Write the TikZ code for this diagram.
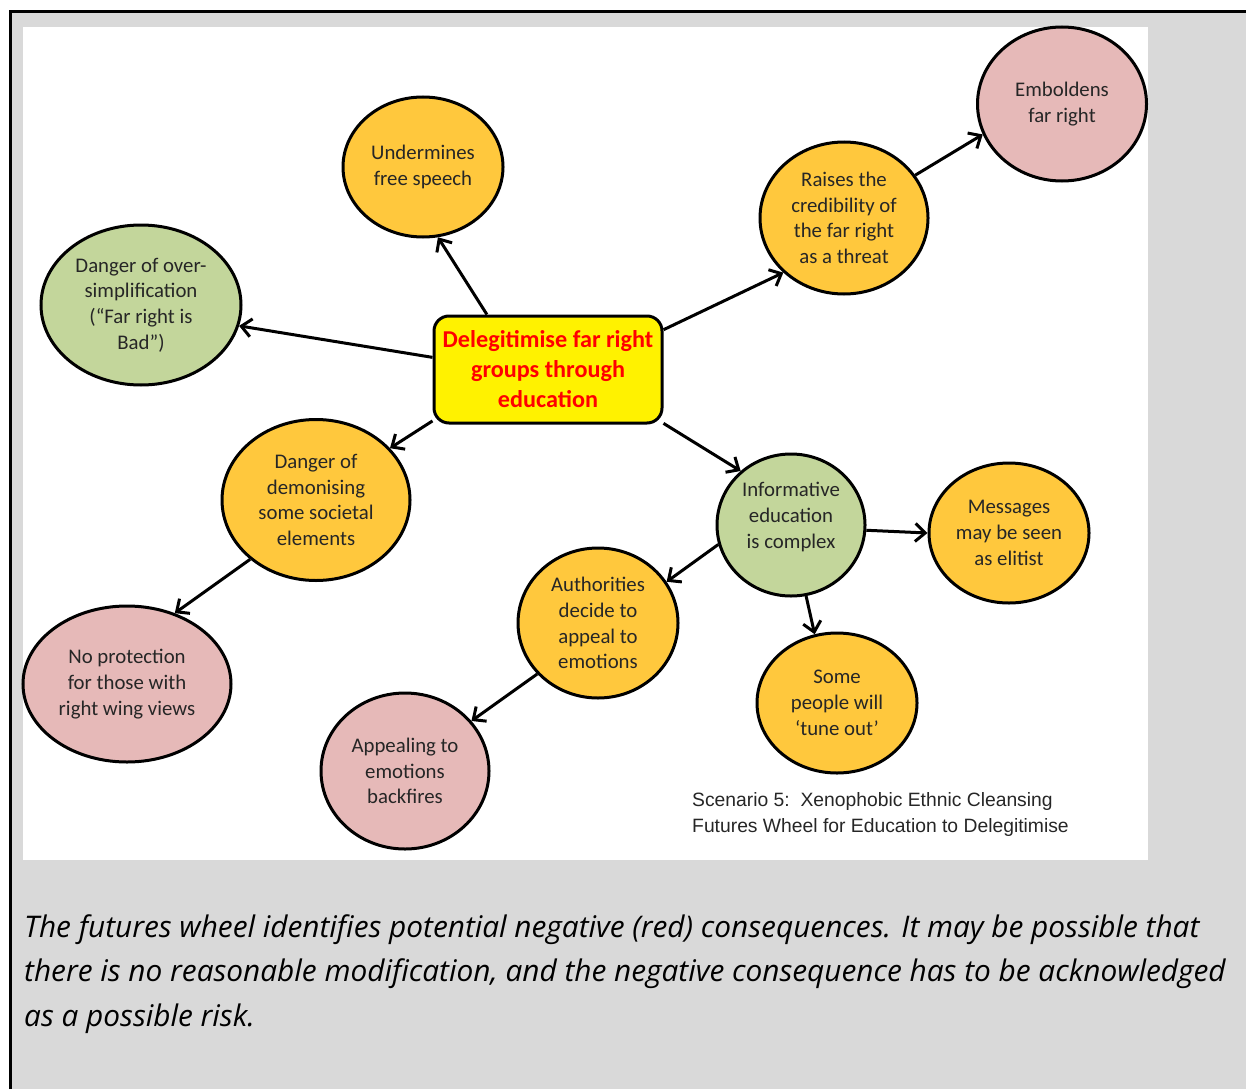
\documentclass[tikz,border=0pt]{standalone}
\usepackage{fontspec}
\setmainfont{Carlito}
\newfontfamily\capfont{Liberation Sans}
\newfontfamily\notefont{Open Sans}
\usetikzlibrary{shapes.geometric,arrows.meta}

\definecolor{panelgray}{HTML}{D9D9D9}
\definecolor{gold}{HTML}{FFC83D}
\definecolor{olive}{HTML}{C3D69B}
\definecolor{rose}{HTML}{E6B9B8}
\definecolor{ink}{HTML}{262626}

\tikzset{
  bubble/.style={ellipse, draw=black, line width=3, inner sep=0pt, align=center,
    text=ink, font=\fontsize{20.8}{25.7}\selectfont},
  hub/.style={rectangle, rounded corners=15, draw=black, line width=3, fill=yellow,
    minimum width=228, minimum height=107, align=center, text=red,
    font=\bfseries\fontsize{24.2}{30}\selectfont},
  link/.style={line width=3, -{Straight Barb[length=10,width=18,line width=3]}},
  plain/.style={inner sep=0pt, align=left, anchor=base west}
}

\begin{document}
\begin{tikzpicture}[x=1pt,y=-1pt]
  \useasboundingbox (0,0) rectangle (1246,1089);
  % panel and frame
  \fill[white] (0,0) rectangle (1246,1089);
  \fill[panelgray] (10,12) rectangle (1246,1089);
  \draw[line width=3] (10,1089) -- (10,12) -- (1246,12);
  \fill[white] (23,27) rectangle (1148,860);

  % central idea
  \node[hub] (c) at (548,369.5) {Delegitimise far right\\groups through\\education};

  % consequences
  \node[bubble, fill=gold, minimum width=160, minimum height=140] (und) at (423,167) {Undermines\\free speech};
  \node[bubble, fill=rose, minimum width=169, minimum height=154] (emb) at (1062,104) {Emboldens\\far right};
  \node[bubble, fill=gold, minimum width=168, minimum height=152] (rai) at (844,218) {Raises the\\credibility of\\the far right\\as a threat};
  \node[bubble, fill=olive, minimum width=200, minimum height=160] (ovr) at (141,305) {Danger of over-\\simplification\\(“Far right is\\Bad”)};
  \node[bubble, fill=gold, minimum width=188, minimum height=161] (dem) at (316,500) {Danger of\\demonising\\some societal\\elements};
  \node[bubble, fill=olive, minimum width=148, minimum height=142] (inf) at (791,525) {};
  \node[bubble, draw=none] (inft) at (791,517) {Informative\\education\\is complex};
  \node[bubble, fill=gold, minimum width=160, minimum height=140] (msg) at (1009,533) {Messages\\may be seen\\as elitist};
  \node[bubble, fill=gold, minimum width=160, minimum height=150] (aut) at (598,623) {Authorities\\decide to\\appeal to\\emotions};
  \node[bubble, fill=gold, minimum width=160, minimum height=140] (tun) at (837,703) {Some\\people will\\‘tune out’};
  \node[bubble, fill=rose, minimum width=208, minimum height=156] (npr) at (127,684) {No protection\\for those with\\right wing views};
  \node[bubble, fill=rose, minimum width=168, minimum height=156] (app) at (405,771) {Appealing to\\emotions\\backfires};

  % connectors
  \draw[link] (c.138.8) -- (und.-78);
  \draw[link] (c.174.2) -- (ovr.-12.8);
  \draw[link] (c.19.7) -- (rai.222.9);
  \draw[link] (rai.31.9) -- (emb.201.3);
  \draw[link] (c.204.3) -- (dem.35.8);
  \draw[link] (c.-25.1) -- (inf.133.4);
  \draw[link] (dem.222.3) -- (npr.56.7);
  \draw[link] (inf.-4.6) -- (msg.180);
  \draw[link] (inf.195.8) -- (aut.31.8);
  \draw[link] (inf.-78.7) -- (tun.108.7);
  \draw[link] (aut.220.8) -- (app.37.9);

  % caption (anchored at the baseline of its last line)
  \node[plain, text=ink, font=\capfont\fontsize{19.3}{26}\selectfont] (cap) at (692,832)
    {Scenario 5:\ \ Xenophobic Ethnic Cleansing\\Futures Wheel for Education to Delegitimise};

  % note below the panel (anchored at the baseline of its last line)
  \node[plain, font=\notefont\itshape\fontsize{29.8}{44.5}\selectfont] (note) at (24,1026)
    {The futures wheel identifies potential negative (red) consequences. It may be possible that\\
     there is no reasonable modification, and the negative consequence has to be acknowledged\\
     as a possible risk.};
\end{tikzpicture}
\end{document}
